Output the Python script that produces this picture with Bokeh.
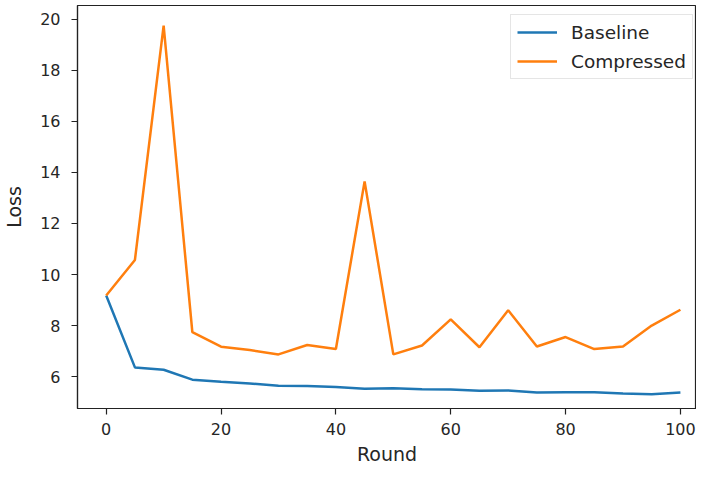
from bokeh.plotting import figure
from bokeh.models import Range1d, FixedTicker, Legend, LegendItem
from bokeh.embed import file_html
from bokeh.resources import INLINE

rounds = [0, 5, 10, 15, 20, 25, 30, 35, 40, 45, 50, 55, 60, 65, 70, 75, 80, 85, 90, 95, 100]
baseline = [9.18, 6.36, 6.27, 5.88, 5.80, 5.73, 5.64, 5.63, 5.59, 5.52, 5.54, 5.50, 5.49, 5.45, 5.46, 5.38, 5.39, 5.39, 5.34, 5.31, 5.38]
compressed = [9.18, 10.57, 19.75, 7.74, 7.17, 7.04, 6.87, 7.24, 7.08, 13.65, 6.87, 7.22, 8.24, 7.15, 8.60, 7.18, 7.55, 7.08, 7.18, 8.00, 8.62]
x_ticks = [0, 20, 40, 60, 80, 100]
y_ticks = [6, 8, 10, 12, 14, 16, 18, 20]

FONT = "DejaVu Sans"

p = figure(width=696, height=469, output_backend="svg", toolbar_location=None,
           x_range=Range1d(-5, 102.8), y_range=Range1d(4.75, 20.54),
           min_border_left=77, min_border_right=0, min_border_top=5, min_border_bottom=61)

r1 = p.line(rounds, baseline, line_color="#1f77b4", line_width=2.5)
r2 = p.line(rounds, compressed, line_color="#ff7f0e", line_width=2.5)

p.xgrid.visible = False
p.ygrid.visible = False
p.outline_line_color = "#222222"
p.outline_line_width = 1.2
p.background_fill_color = "white"
p.border_fill_color = "white"

p.xaxis.ticker = FixedTicker(ticks=x_ticks)
p.yaxis.ticker = FixedTicker(ticks=y_ticks)
p.xaxis.axis_label = "Round"
p.yaxis.axis_label = "Loss"
for ax in (p.xaxis, p.yaxis):
    ax.axis_line_color = "#222222"
    ax.axis_line_width = 1.2
    ax.major_tick_line_color = "#222222"
    ax.major_tick_line_width = 1.2
    ax.major_tick_in = 0
    ax.major_tick_out = 6
    ax.minor_tick_line_color = None
    ax.major_label_text_font = FONT
    ax.major_label_text_font_size = "16px"
    ax.major_label_text_color = "#262626"
    ax.axis_label_text_font = FONT
    ax.axis_label_text_font_size = "19px"
    ax.axis_label_text_font_style = "normal"
    ax.axis_label_text_color = "#262626"
p.xaxis.major_label_standoff = 8
p.yaxis.major_label_standoff = 11
p.xaxis.axis_label_standoff = 5
p.yaxis.axis_label_standoff = 12

legend = Legend(items=[LegendItem(label="Baseline", renderers=[r1]),
                       LegendItem(label="Compressed", renderers=[r2])],
                location=(433, 329))
legend.label_text_font = FONT
legend.label_text_font_size = "18.5px"
legend.label_text_color = "#262626"
legend.glyph_width = 40
legend.glyph_height = 22
legend.label_height = 22
legend.label_standoff = 14
legend.spacing = 7
legend.padding = 6
legend.margin = 0
legend.border_line_color = "#cccccc"
legend.border_line_width = 1
legend.background_fill_alpha = 0.8
p.add_layout(legend)

open("out.html", "w").write(file_html(p, INLINE))
